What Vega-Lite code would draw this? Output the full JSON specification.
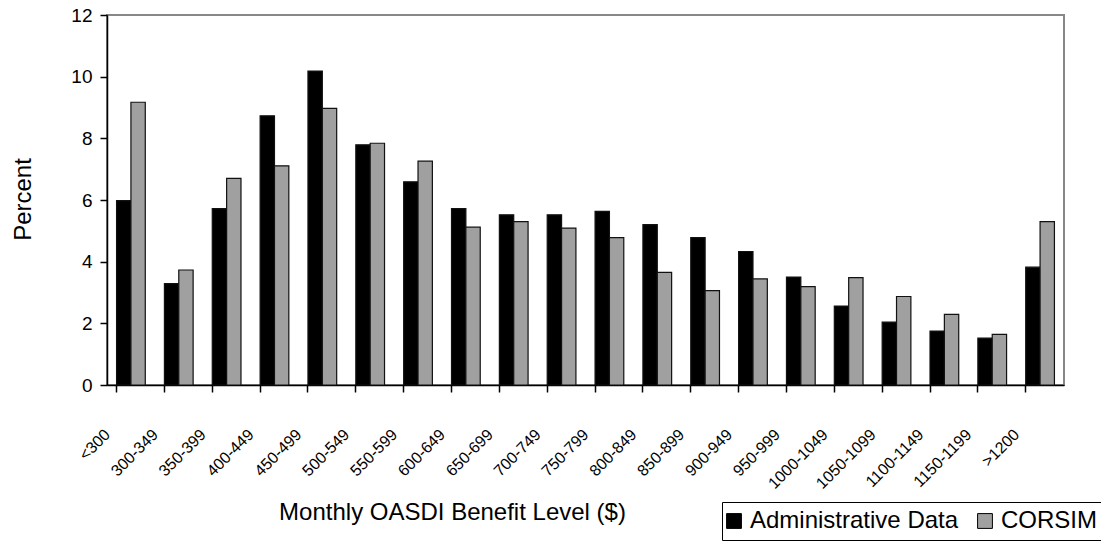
{
  "$schema": "https://vega.github.io/schema/vega-lite/v6.json",
  "width": 957,
  "height": 370,
  "autosize": {"type": "none"},
  "padding": {"left": 107, "top": 15, "right": 37, "bottom": 158},
  "background": "white",
  "config": {
    "font": "Liberation Sans",
    "view": {"stroke": "#888888", "strokeWidth": 2},
    "axis": {"labelColor": "black", "titleColor": "black", "domainColor": "black", "tickColor": "black", "domainWidth": 1.5, "tickWidth": 1.5, "grid": false, "titleFontWeight": "normal"}
  },
  "data": {
    "values": [
      {"level": "<300", "series": "Administrative Data", "percent": 5.98},
      {"level": "<300", "series": "CORSIM", "percent": 9.17},
      {"level": "300-349", "series": "Administrative Data", "percent": 3.29},
      {"level": "300-349", "series": "CORSIM", "percent": 3.73},
      {"level": "350-399", "series": "Administrative Data", "percent": 5.72},
      {"level": "350-399", "series": "CORSIM", "percent": 6.7},
      {"level": "400-449", "series": "Administrative Data", "percent": 8.73},
      {"level": "400-449", "series": "CORSIM", "percent": 7.11},
      {"level": "450-499", "series": "Administrative Data", "percent": 10.18},
      {"level": "450-499", "series": "CORSIM", "percent": 8.97},
      {"level": "500-549", "series": "Administrative Data", "percent": 7.79},
      {"level": "500-549", "series": "CORSIM", "percent": 7.84},
      {"level": "550-599", "series": "Administrative Data", "percent": 6.59},
      {"level": "550-599", "series": "CORSIM", "percent": 7.26},
      {"level": "600-649", "series": "Administrative Data", "percent": 5.72},
      {"level": "600-649", "series": "CORSIM", "percent": 5.12},
      {"level": "650-699", "series": "Administrative Data", "percent": 5.52},
      {"level": "650-699", "series": "CORSIM", "percent": 5.3},
      {"level": "700-749", "series": "Administrative Data", "percent": 5.52},
      {"level": "700-749", "series": "CORSIM", "percent": 5.09},
      {"level": "750-799", "series": "Administrative Data", "percent": 5.63},
      {"level": "750-799", "series": "CORSIM", "percent": 4.78},
      {"level": "800-849", "series": "Administrative Data", "percent": 5.2},
      {"level": "800-849", "series": "CORSIM", "percent": 3.65},
      {"level": "850-899", "series": "Administrative Data", "percent": 4.78},
      {"level": "850-899", "series": "CORSIM", "percent": 3.06},
      {"level": "900-949", "series": "Administrative Data", "percent": 4.33},
      {"level": "900-949", "series": "CORSIM", "percent": 3.44},
      {"level": "950-999", "series": "Administrative Data", "percent": 3.5},
      {"level": "950-999", "series": "CORSIM", "percent": 3.19},
      {"level": "1000-1049", "series": "Administrative Data", "percent": 2.56},
      {"level": "1000-1049", "series": "CORSIM", "percent": 3.48},
      {"level": "1050-1099", "series": "Administrative Data", "percent": 2.04},
      {"level": "1050-1099", "series": "CORSIM", "percent": 2.87},
      {"level": "1100-1149", "series": "Administrative Data", "percent": 1.75},
      {"level": "1100-1149", "series": "CORSIM", "percent": 2.29},
      {"level": "1150-1199", "series": "Administrative Data", "percent": 1.52},
      {"level": "1150-1199", "series": "CORSIM", "percent": 1.64},
      {"level": ">1200", "series": "Administrative Data", "percent": 3.82},
      {"level": ">1200", "series": "CORSIM", "percent": 5.3}
    ]
  },
  "mark": {"type": "bar", "stroke": "#111111", "strokeWidth": 1.2},
  "encoding": {
    "x": {
      "field": "level",
      "type": "nominal",
      "sort": null,
      "scale": {"paddingInner": 0.4, "paddingOuter": 0.2},
      "axis": {
        "bandPosition": 0,
        "labelAngle": -45,
        "labelFontSize": 16,
        "labelPadding": 34,
        "labelOffset": -29,
        "labelOverlap": false,
        "labelBound": false,
        "tickSize": 7,
        "title": "Monthly OASDI Benefit Level ($)",
        "titleFontSize": 24,
        "titleX": 345,
        "titleY": 134,
        "titleBaseline": "alphabetic",
        "titleAnchor": null
      }
    },
    "xOffset": {"field": "series", "type": "nominal", "sort": ["Administrative Data", "CORSIM"], "scale": {"paddingInner": 0, "paddingOuter": 0}},
    "y": {
      "field": "percent",
      "type": "quantitative",
      "scale": {"domain": [0, 12], "nice": false},
      "axis": {
        "values": [0, 2, 4, 6, 8, 10, 12],
        "labelFontSize": 19,
        "tickSize": 7,
        "labelPadding": 8,
        "title": "Percent",
        "titleFontSize": 24,
        "titleX": -77,
        "titleY": 184,
        "titleBaseline": "alphabetic"
      }
    },
    "color": {
      "field": "series",
      "type": "nominal",
      "sort": ["Administrative Data", "CORSIM"],
      "scale": {"domain": ["Administrative Data", "CORSIM"], "range": ["#000000", "#a0a0a0"]},
      "legend": {
        "title": null,
        "orient": "none",
        "legendX": 615,
        "legendY": 487,
        "direction": "horizontal",
        "strokeColor": "black",
        "fillColor": "white",
        "padding": 7,
        "labelFontSize": 24,
        "labelLimit": 400,
        "labelColor": "black",
        "labelOffset": 4,
        "columnPadding": 16,
        "symbolOffset": -7,
        "symbolType": "square",
        "symbolSize": 220,
        "symbolStrokeColor": "black",
        "symbolStrokeWidth": 1
      }
    }
  }
}
